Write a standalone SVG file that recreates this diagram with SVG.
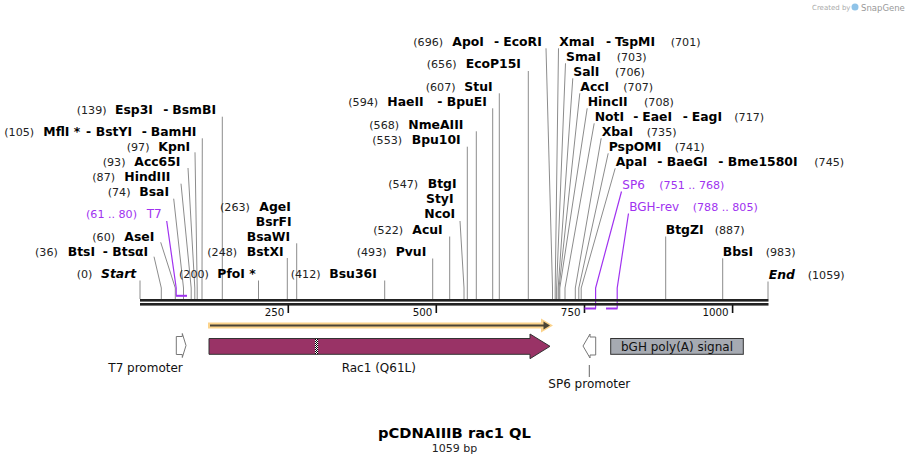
<svg xmlns="http://www.w3.org/2000/svg" width="909" height="465" viewBox="0 0 909 465" xml:space="preserve">
<style>
text{font-family:"DejaVu Sans",Verdana,sans-serif}
.n{font-size:11.1px;fill:#222}
.e{font-size:12.4px;font-weight:bold;fill:#000}
.i{font-size:12.4px;font-weight:bold;font-style:italic;fill:#000}
.pn{font-size:11.1px;fill:#a032f0}
.p{font-size:12px;fill:#a032f0}
.f{font-size:12px;fill:#111}
.r{font-size:10.3px;fill:#111;text-anchor:end}
.c line,.c polyline{stroke:#8c8c8c;stroke-width:1;fill:none}
.c .pl{stroke:#a032f0;stroke-width:1.2;fill:none}
.tk{stroke:#111;stroke-width:1.6}
</style>
<defs>
<pattern id="chk" width="2" height="2" patternUnits="userSpaceOnUse"><rect width="2" height="2" fill="#fff"/><rect width="1" height="1" fill="#000"/><rect x="1" y="1" width="1" height="1" fill="#000"/></pattern>
</defs>
<rect width="909" height="465" fill="#fff"/>

<g id="watermark">
<text x="812" y="10" style="font-size:7px;fill:#aaa">Created by</text>
<circle cx="855" cy="7" r="3.5" fill="#8fc3e8"/>
<text x="861" y="10.5" style="font-size:8.5px;fill:#999">SnapGene</text>
</g>

<g id="connectors" class="c">
<line x1="140" y1="280.5" x2="140" y2="299"/>
<polyline points="154,256.7 161.3,288 161.3,299"/>
<polyline points="160.7,242.3 175.3,288 175.3,299"/>
<polyline points="173.7,198.7 183.5,288 183.5,299"/>
<polyline points="181,183.7 191.2,288 191.2,299"/>
<polyline points="188,168 194.8,288 194.8,299"/>
<polyline points="195,152.3 197.2,288 197.2,299"/>
<polyline points="202.3,138.3 202,288 202,299"/>
<line x1="222.3" y1="116.7" x2="222.3" y2="299"/>
<line x1="258.5" y1="280.5" x2="258.5" y2="299"/>
<line x1="287.3" y1="258" x2="287.3" y2="299"/>
<line x1="296.7" y1="243.3" x2="296.7" y2="299"/>
<line x1="384.7" y1="280.5" x2="384.7" y2="299"/>
<line x1="432.7" y1="258.5" x2="432.7" y2="299"/>
<line x1="449.7" y1="236.5" x2="449.7" y2="299"/>
<polyline points="460,221 464,288 464,299"/>
<line x1="467.3" y1="146.7" x2="467.3" y2="299"/>
<line x1="476.3" y1="131.3" x2="476.3" y2="299"/>
<line x1="492.7" y1="108.3" x2="492.7" y2="299"/>
<line x1="499.3" y1="93.3" x2="499.3" y2="299"/>
<line x1="528.3" y1="71" x2="528.3" y2="299"/>
<polyline points="546,48.3 552.5,288 552.5,299"/>
<polyline points="558.5,48.3 555.2,288 555.2,299"/>
<polyline points="565.5,63.3 556.6,288 556.6,299"/>
<polyline points="572.8,78.3 558.2,288 558.2,299"/>
<polyline points="579.8,93.3 559,288 559,299"/>
<polyline points="587.2,108.3 559.8,288 559.8,299"/>
<polyline points="594.2,123.3 565,288 565,299"/>
<polyline points="601.2,138.3 575.3,288 575.3,299"/>
<polyline points="608.2,153.3 578.8,288 578.8,299"/>
<polyline points="615.2,168.3 581.2,288 581.2,299"/>
<line x1="665.7" y1="236.5" x2="665.7" y2="299"/>
<line x1="722.7" y1="258.3" x2="722.7" y2="299"/>
<line x1="768" y1="281.5" x2="768" y2="299"/>
<polyline class="pl" points="166.7,221 176.2,288 176.2,295.5"/>
<polyline class="pl" points="621.5,191.5 595.6,288 595.6,308.5"/>
<polyline class="pl" points="628.5,213.5 617.2,288 617.2,308.5"/>
<line x1="589.3" y1="365" x2="589.3" y2="377" style="stroke:#666"/>
</g>

<g id="ruler">
<rect x="140" y="299" width="628.5" height="2.6" fill="#222"/>
<rect x="140" y="303" width="628.5" height="2.6" fill="#222"/>
<line class="tk" x1="288.3" y1="305" x2="288.3" y2="313"/>
<line class="tk" x1="436.3" y1="305" x2="436.3" y2="313"/>
<line class="tk" x1="584.5" y1="305" x2="584.5" y2="313"/>
<line class="tk" x1="732.6" y1="305" x2="732.6" y2="313"/>
<text class="r" x="284.3" y="315.5">250</text>
<text class="r" x="432.3" y="315.5">500</text>
<text class="r" x="580.5" y="315.5">750</text>
<text class="r" x="728.6" y="315.5">1000</text>
</g>

<g id="primer-T7"><rect x="176" y="294.8" width="11" height="2" fill="#a032f0"/><text class="pn" x="86" y="218.3">(61 .. 80)</text><text class="p" x="146.7" y="218.3">T7</text></g>
<g id="primer-SP6"><rect x="584.5" y="307.5" width="11.5" height="2" fill="#a032f0"/><text class="p" x="622.3" y="189">SP6</text><text class="pn" x="659.3" y="189">(751 .. 768)</text></g>
<g id="primer-BGH-rev"><rect x="606" y="307.5" width="11.5" height="2" fill="#a032f0"/><text class="p" x="629.3" y="211">BGH-rev</text><text class="pn" x="692.7" y="211">(788 .. 805)</text></g>

<g id="site-start"><text class="n" x="76.7" y="278.3">(0)</text><text class="i" x="101" y="278.3">Start</text></g>
<g id="site-36"><text class="n" x="35" y="255.7">(36)</text><text class="e" x="67.7" y="255.7">BtsI</text><text class="e" x="102.7" y="255.7">-</text><text class="e" x="112.3" y="255.7">BtsαI</text></g>
<g id="site-60"><text class="n" x="92.3" y="240.7">(60)</text><text class="e" x="124.3" y="240.7">AseI</text></g>
<g id="site-74"><text class="n" x="107.7" y="195.7">(74)</text><text class="e" x="139.3" y="195.7">BsaI</text></g>
<g id="site-87"><text class="n" x="92.3" y="180.7">(87)</text><text class="e" x="124.3" y="180.7">HindIII</text></g>
<g id="site-93"><text class="n" x="102.7" y="165.7">(93)</text><text class="e" x="134.3" y="165.7">Acc65I</text></g>
<g id="site-97"><text class="n" x="126.7" y="150.7">(97)</text><text class="e" x="158.3" y="150.7">KpnI</text></g>
<g id="site-105"><text class="n" x="4.3" y="135.7">(105)</text><text class="e" x="43.3" y="135.7">MflI *</text><text class="e" x="86" y="135.7">-</text><text class="e" x="95.7" y="135.7">BstYI</text><text class="e" x="141.7" y="135.7">-</text><text class="e" x="150.7" y="135.7">BamHI</text></g>
<g id="site-139"><text class="n" x="76.7" y="114">(139)</text><text class="e" x="115" y="114">Esp3I</text><text class="e" x="163.3" y="114">-</text><text class="e" x="172.3" y="114">BsmBI</text></g>
<g id="site-200"><text class="n" x="179" y="278.3">(200)</text><text class="e" x="217.3" y="278.3">PfoI *</text></g>
<g id="site-248"><text class="n" x="207.3" y="255.7">(248)</text><text class="e" x="246.7" y="255.7">BstXI</text></g>
<g id="site-263"><text class="n" x="220" y="210.7">(263)</text><text class="e" x="259.3" y="210.7">AgeI</text><text class="e" x="255.7" y="225.7">BsrFI</text><text class="e" x="246.7" y="240.7">BsaWI</text></g>
<g id="site-412"><text class="n" x="290.7" y="278.3">(412)</text><text class="e" x="329.3" y="278.3">Bsu36I</text></g>
<g id="site-493"><text class="n" x="356.7" y="255.7">(493)</text><text class="e" x="395.7" y="255.7">PvuI</text></g>
<g id="site-522"><text class="n" x="373.3" y="234">(522)</text><text class="e" x="412.3" y="234">AcuI</text></g>
<g id="site-547"><text class="n" x="388.3" y="188.3">(547)</text><text class="e" x="427.7" y="188.3">BtgI</text><text class="e" x="426" y="203.3">StyI</text><text class="e" x="424.3" y="218.3">NcoI</text></g>
<g id="site-553"><text class="n" x="372.3" y="144">(553)</text><text class="e" x="411.7" y="144">Bpu10I</text></g>
<g id="site-568"><text class="n" x="369.3" y="129">(568)</text><text class="e" x="408.3" y="129">NmeAIII</text></g>
<g id="site-594"><text class="n" x="348.3" y="105.7">(594)</text><text class="e" x="387.3" y="105.7">HaeII</text><text class="e" x="437.3" y="105.7">-</text><text class="e" x="446.7" y="105.7">BpuEI</text></g>
<g id="site-607"><text class="n" x="425.7" y="90.7">(607)</text><text class="e" x="464.3" y="90.7">StuI</text></g>
<g id="site-656"><text class="n" x="426.7" y="68.3">(656)</text><text class="e" x="465.7" y="68.3">EcoP15I</text></g>
<g id="site-696"><text class="n" x="413.3" y="45.7">(696)</text><text class="e" x="452.3" y="45.7">ApoI</text><text class="e" x="494" y="45.7">-</text><text class="e" x="503.3" y="45.7">EcoRI</text></g>
<g id="site-701"><text class="e" x="559.3" y="45.7">XmaI</text><text class="e" x="606" y="45.7">-</text><text class="e" x="615" y="45.7">TspMI</text><text class="n" x="670.7" y="45.7">(701)</text></g>
<g id="site-703"><text class="e" x="566" y="60.7">SmaI</text><text class="n" x="616.7" y="60.7">(703)</text></g>
<g id="site-706"><text class="e" x="573.3" y="75.7">SalI</text><text class="n" x="615" y="75.7">(706)</text></g>
<g id="site-707"><text class="e" x="580.3" y="90.7">AccI</text><text class="n" x="623.3" y="90.7">(707)</text></g>
<g id="site-708"><text class="e" x="587.7" y="105.7">HincII</text><text class="n" x="644" y="105.7">(708)</text></g>
<g id="site-717"><text class="e" x="594.7" y="120.7">NotI</text><text class="e" x="633.3" y="120.7">-</text><text class="e" x="642.3" y="120.7">EaeI</text><text class="e" x="682.7" y="120.7">-</text><text class="e" x="691.7" y="120.7">EagI</text><text class="n" x="734.3" y="120.7">(717)</text></g>
<g id="site-735"><text class="e" x="601.7" y="135.7">XbaI</text><text class="n" x="646.7" y="135.7">(735)</text></g>
<g id="site-741"><text class="e" x="608.7" y="150.7">PspOMI</text><text class="n" x="674.7" y="150.7">(741)</text></g>
<g id="site-745"><text class="e" x="615.7" y="165.7">ApaI</text><text class="e" x="657.3" y="165.7">-</text><text class="e" x="666.7" y="165.7">BaeGI</text><text class="e" x="718.3" y="165.7">-</text><text class="e" x="727.7" y="165.7">Bme1580I</text><text class="n" x="814.3" y="165.7">(745)</text></g>
<g id="site-887"><text class="e" x="665.7" y="234">BtgZI</text><text class="n" x="714.7" y="234">(887)</text></g>
<g id="site-983"><text class="e" x="722.7" y="255.7">BbsI</text><text class="n" x="765.7" y="255.7">(983)</text></g>
<g id="site-end"><text class="i" x="768.7" y="278.7">End</text><text class="n" x="807.7" y="278.7">(1059)</text></g>

<g id="orf">
<line x1="208" y1="325.5" x2="546" y2="325.5" stroke="#fbd38c" stroke-width="6"/>
<polygon points="541,318.5 553,325.5 541,332.5" fill="#fbd38c"/>
<line x1="210" y1="325.5" x2="545" y2="325.5" stroke="#4a4436" stroke-width="2"/>
<polygon points="543.5,321.5 550,325.5 543.5,329.5" fill="#4a4436"/>
</g>

<g id="feature-T7-promoter">
<polygon points="176.3,336.5 182.3,336.5 182.3,333.5 186,345.5 182.3,357.5 182.3,354.5 176.3,354.5" fill="#fff" stroke="#777" stroke-width="1"/>
<text class="f" x="108.3" y="371.5">T7 promoter</text>
</g>

<g id="feature-Rac1">
<polygon points="209,338.5 530,338.5 530,334 550,346.3 530,358.7 530,354.3 209,354.3" fill="#993366" stroke="#333" stroke-width="1"/>
<rect x="315" y="339" width="3" height="15" fill="url(#chk)"/>
<text class="f" x="341.7" y="371.5">Rac1 (Q61L)</text>
</g>

<g id="feature-SP6-promoter">
<polygon points="595.7,337 590,337 590,334 583,346 590,358 590,355 595.7,355" fill="#fff" stroke="#777" stroke-width="1"/>
<text class="f" x="589.3" y="387.5" text-anchor="middle">SP6 promoter</text>
</g>

<g id="feature-bGH">
<rect x="610.7" y="338.5" width="132.6" height="15.8" fill="#a6aab2" stroke="#333" stroke-width="1"/>
<text class="f" x="677" y="350.5" text-anchor="middle">bGH poly(A) signal</text>
</g>

<g id="title">
<text x="454.5" y="438.3" text-anchor="middle" style="font-size:14.7px;font-weight:bold;fill:#000">pCDNAIIIB rac1 QL</text>
<text x="454.5" y="451.7" text-anchor="middle" style="font-size:11px;fill:#222">1059 bp</text>
</g>
</svg>
